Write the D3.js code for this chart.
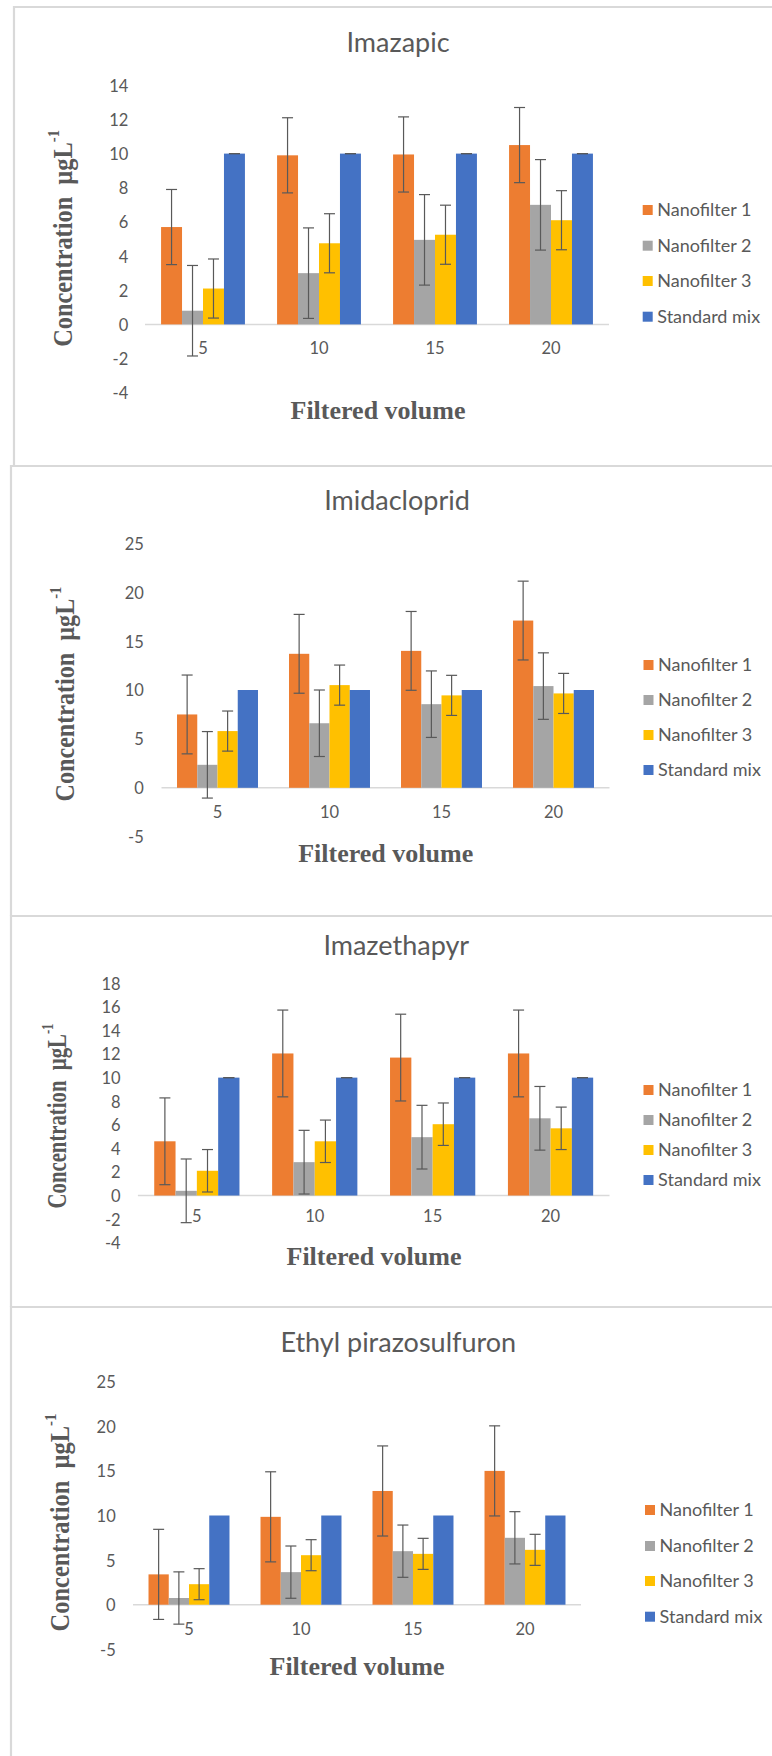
<!DOCTYPE html>
<html>
<head>
<meta charset="utf-8">
<script src="https://cdn.jsdelivr.net/npm/d3@7"></script>
<style>
  html, body { margin: 0; padding: 0; background: #fff; }
  svg { display: block; }
</style>
</head>
<body>
<svg id="chart" width="772" height="1756"></svg>
<script>
// ---- Data ----
const categories = ["5", "10", "15", "20"];
const seriesNames = ["Nanofilter 1", "Nanofilter 2", "Nanofilter 3", "Standard mix"];
const seriesColors = ["#ED7D31", "#A5A5A5", "#FFC000", "#4472C4"];

// Imazapic
const imazapicTitle = "Imazapic";
const imazapicTicks = [-4, -2, 0, 2, 4, 6, 8, 10, 12, 14];
const imazapicValues = [
  [5.7, 9.9, 9.95, 10.5],
  [0.8, 3.0, 4.95, 7.0],
  [2.1, 4.75, 5.25, 6.1],
  [10, 10, 10, 10]
];
const imazapicErrors = [
  [2.2, 2.2, 2.2, 2.2],
  [2.65, 2.65, 2.65, 2.65],
  [1.73, 1.73, 1.73, 1.73],
  [0, 0, 0, 0]
];

// Imidacloprid
const imidaclopridTitle = "Imidacloprid";
const imidaclopridTicks = [-5, 0, 5, 10, 15, 20, 25];
const imidaclopridValues = [
  [7.5, 13.7, 14.0, 17.1],
  [2.35, 6.6, 8.55, 10.4],
  [5.8, 10.5, 9.45, 9.65],
  [10, 10, 10, 10]
];
const imidaclopridErrors = [
  [4.03, 4.03, 4.03, 4.03],
  [3.4, 3.4, 3.4, 3.4],
  [2.05, 2.05, 2.05, 2.05],
  [null, null, null, null]
];

// Imazethapyr
const imazethapyrTitle = "Imazethapyr";
const imazethapyrTicks = [-4, -2, 0, 2, 4, 6, 8, 10, 12, 14, 16, 18];
const imazethapyrValues = [
  [4.6, 12.05, 11.7, 12.05],
  [0.4, 2.83, 4.95, 6.55],
  [2.1, 4.6, 6.05, 5.7],
  [10, 10, 10, 10]
];
const imazethapyrErrors = [
  [3.68, 3.68, 3.68, 3.68],
  [2.7, 2.7, 2.7, 2.7],
  [1.8, 1.8, 1.8, 1.8],
  [0, 0, 0, 0]
];

// Ethyl pirazosulfuron
const pirazosulfuronTitle = "Ethyl pirazosulfuron";
const pirazosulfuronTicks = [-5, 0, 5, 10, 15, 20, 25];
const pirazosulfuronValues = [
  [3.4, 9.85, 12.75, 15.0],
  [0.75, 3.65, 6.0, 7.5],
  [2.3, 5.55, 5.7, 6.15],
  [10, 10, 10, 10]
];
const pirazosulfuronErrors = [
  [5.05, 5.05, 5.05, 5.05],
  [2.93, 2.93, 2.93, 2.93],
  [1.74, 1.74, 1.74, 1.74],
  [null, null, null, null]
];

const xAxisTitle = "Filtered volume";
const yAxisTitle = "Concentration\u00a0\u00a0µgL";
const yAxisSup = "-1";

// ---- Layout of each panel ----
const panels = [
  { title: imazapicTitle, ticks: imazapicTicks, values: imazapicValues, errors: imazapicErrors,
    frame: { x: 14, y: 7, bottom: 466 },
    titlePos: [398, 51.7], yTop: 85.3, yBot: 392.7, xL: 145, xR: 609, tickRight: 128.3,
    xLabelDy: 24, xTitlePos: [378, 419], yTitle: { x: 71.7, cy: 238.4, len: 217 },
    legend: { x: 642.7, ys: [210, 245.7, 281, 316.7] } },
  { title: imidaclopridTitle, ticks: imidaclopridTicks, values: imidaclopridValues, errors: imidaclopridErrors,
    frame: { x: 11, y: 466, bottom: 916 },
    titlePos: [397, 510], yTop: 543.3, yBot: 836.7, xL: 161.5, xR: 609.5, tickRight: 143.8,
    xLabelDy: 24, xTitlePos: [385.7, 862], yTitle: { x: 73.5, cy: 694, len: 215 },
    legend: { x: 643.5, ys: [665, 700, 735, 770] } },
  { title: imazethapyrTitle, ticks: imazethapyrTicks, values: imazethapyrValues, errors: imazethapyrErrors,
    frame: { x: 11, y: 916, bottom: 1307 },
    titlePos: [396.3, 955], yTop: 983.3, yBot: 1242.7, xL: 137.9, xR: 609.5, tickRight: 120.6,
    xLabelDy: 20.5, xTitlePos: [374, 1265], yTitle: { x: 65.5, cy: 1116, len: 185 },
    legend: { x: 643.5, ys: [1090, 1120, 1150, 1180] } },
  { title: pirazosulfuronTitle, ticks: pirazosulfuronTicks, values: pirazosulfuronValues, errors: pirazosulfuronErrors,
    frame: { x: 11, y: 1307, bottom: 1800 },
    titlePos: [398.3, 1351.7], yTop: 1381.7, yBot: 1649.3, xL: 133, xR: 581, tickRight: 115.7,
    xLabelDy: 24.6, xTitlePos: [357, 1675], yTitle: { x: 69, cy: 1522.5, len: 218 },
    legend: { x: 645, ys: [1510, 1546, 1581, 1616.7] } }
];

const svg = d3.select("#chart");
const textColor = "#595959";
const sansFont = "Lato, 'Open Sans', sans-serif";
const serifFont = "'Liberation Serif', 'DejaVu Serif', serif";

svg.append("rect").attr("width", 772).attr("height", 1756).attr("fill", "#fff");

panels.forEach(p => {
  const g = svg.append("g");

  // panel frame
  g.append("path")
    .attr("d", `M${p.frame.x},${p.frame.bottom} V${p.frame.y} H780`)
    .attr("fill", "none").attr("stroke", "#d9d9d9").attr("stroke-width", 2.2);
  g.append("path")
    .attr("d", `M${p.frame.x},${p.frame.bottom} H780`)
    .attr("fill", "none").attr("stroke", "#d9d9d9").attr("stroke-width", 2.2);

  // scales
  const y = d3.scaleLinear()
    .domain([d3.min(p.ticks), d3.max(p.ticks)])
    .range([p.yBot, p.yTop]);
  const x0 = d3.scaleBand().domain(categories).range([p.xL, p.xR]).paddingInner(0).paddingOuter(0);
  const bw = x0.bandwidth();
  const x1 = d3.scaleBand().domain(d3.range(seriesNames.length))
    .range([bw * 0.1385, bw * 0.8615]).padding(0);

  // title
  g.append("text")
    .attr("x", p.titlePos[0]).attr("y", p.titlePos[1])
    .attr("text-anchor", "middle")
    .attr("font-family", sansFont).attr("font-size", 27)
    .attr("fill", textColor)
    .text(p.title);

  // y-axis tick labels (plain hyphen for negatives)
  const yAxis = d3.axisLeft(y).tickValues(p.ticks).tickSize(0).tickPadding(0).tickFormat(d => String(d));
  const ya = g.append("g").attr("transform", `translate(${p.tickRight},0)`).call(yAxis);
  ya.select(".domain").remove();
  ya.selectAll("text")
    .attr("font-family", sansFont).attr("font-size", 16.5)
    .attr("fill", textColor).attr("dy", "0.36em");

  // zero baseline
  g.append("line")
    .attr("x1", p.xL).attr("x2", p.xR)
    .attr("y1", y(0)).attr("y2", y(0))
    .attr("stroke", "#d9d9d9").attr("stroke-width", 1.5);

  // bars
  seriesNames.forEach((name, si) => {
    const sg = g.append("g");
    sg.selectAll("rect")
      .data(categories.map((c, ci) => ({ c, v: p.values[si][ci] })))
      .join("rect")
      .attr("x", d => x0(d.c) + x1(si))
      .attr("width", x1.bandwidth())
      .attr("y", d => Math.min(y(d.v), y(0)))
      .attr("height", d => Math.abs(y(0) - y(d.v)))
      .attr("fill", seriesColors[si]);
  });

  // error bars
  seriesNames.forEach((name, si) => {
    categories.forEach((c, ci) => {
      const e = p.errors[si][ci];
      if (e === null) return;
      const v = p.values[si][ci];
      const cx = x0(c) + x1(si) + x1.bandwidth() / 2;
      const yHi = y(v + e), yLo = y(v - e);
      const eg = g.append("g").attr("stroke", textColor).attr("stroke-width", 1.2);
      eg.append("line").attr("x1", cx).attr("x2", cx).attr("y1", yHi).attr("y2", yLo);
      eg.append("line").attr("x1", cx - 5.5).attr("x2", cx + 5.5).attr("y1", yHi).attr("y2", yHi);
      eg.append("line").attr("x1", cx - 5.5).attr("x2", cx + 5.5).attr("y1", yLo).attr("y2", yLo);
    });
  });

  // x-axis category labels
  const xAxis = d3.axisBottom(x0).tickSize(0).tickPadding(0);
  const xa = g.append("g").attr("transform", `translate(0,${y(0) + p.xLabelDy})`).call(xAxis);
  xa.select(".domain").remove();
  xa.selectAll("text")
    .attr("font-family", sansFont).attr("font-size", 16.5)
    .attr("fill", textColor).attr("dy", "0.36em");

  // x-axis title
  g.append("text")
    .attr("x", p.xTitlePos[0]).attr("y", p.xTitlePos[1])
    .attr("text-anchor", "middle")
    .attr("font-family", serifFont).attr("font-weight", "bold").attr("font-size", 26)
    .attr("fill", textColor)
    .text(xAxisTitle);

  // y-axis title (rotated, fitted to its length)
  const yt = g.append("g")
    .attr("transform", `translate(${p.yTitle.x},${p.yTitle.cy}) rotate(-90)`);
  const ytText = yt.append("text")
    .attr("text-anchor", "middle")
    .attr("font-family", serifFont).attr("font-weight", "bold").attr("font-size", 28)
    .attr("fill", textColor);
  ytText.append("tspan").text(yAxisTitle);
  ytText.append("tspan").attr("font-size", 17).attr("dy", "-0.75em").text(yAxisSup);
  const w = ytText.node().getBBox().width;
  ytText.attr("transform", `scale(${p.yTitle.len / w},1)`);

  // legend
  const lg = g.append("g");
  seriesNames.forEach((name, si) => {
    const ly = p.legend.ys[si];
    lg.append("rect")
      .attr("x", p.legend.x).attr("y", ly - 5)
      .attr("width", 10).attr("height", 10)
      .attr("fill", seriesColors[si]);
    lg.append("text")
      .attr("x", p.legend.x + 14.6).attr("y", ly)
      .attr("dy", "0.36em")
      .attr("font-family", sansFont).attr("font-size", 18)
      .attr("fill", textColor)
      .text(name);
  });
});
</script>
</body>
</html>
